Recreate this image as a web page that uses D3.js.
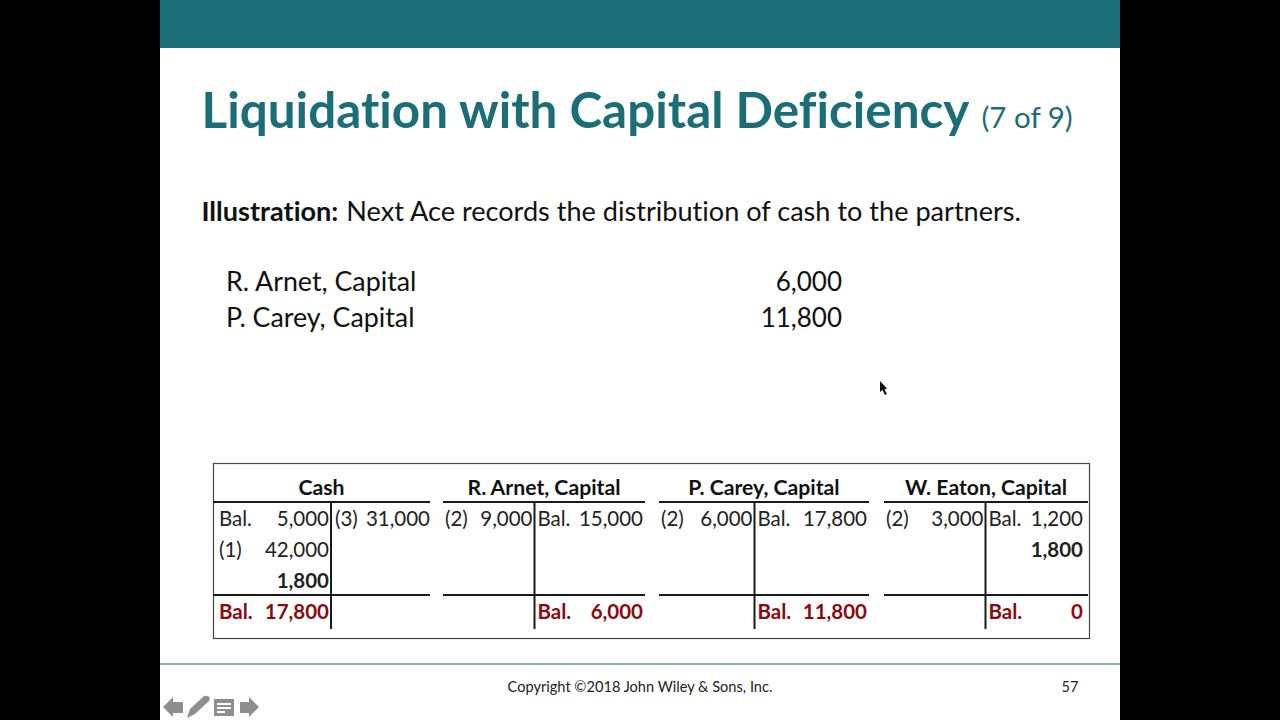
<!DOCTYPE html>
<html>
<head>
<meta charset="utf-8">
<script src="https://cdn.jsdelivr.net/npm/d3@7/dist/d3.min.js"></script>
<style>
  html, body { margin: 0; padding: 0; background: #000; overflow: hidden; }
  text { font-family: Lato, "Open Sans", sans-serif; font-variant-ligatures: none; }
</style>
</head>
<body>
<svg id="slide" width="1280" height="720"></svg>
<script>
// T account data, rows are read top to bottom
let accounts = ["Cash", "R. Arnet, Capital", "P. Carey, Capital", "W. Eaton, Capital"];

let debitLabels = [
  ["Bal.", "(1)", "", "Bal."],
  ["(2)", "", "", ""],
  ["(2)", "", "", ""],
  ["(2)", "", "", ""]
];
let debitValues = [
  [5000, 42000, 1800, 17800],
  [9000, null, null, null],
  [6000, null, null, null],
  [3000, null, null, null]
];
let creditLabels = [
  ["(3)", "", "", ""],
  ["Bal.", "", "", "Bal."],
  ["Bal.", "", "", "Bal."],
  ["Bal.", "", "", "Bal."]
];
let creditValues = [
  [31000, null, null, null],
  [15000, null, null, 6000],
  [17800, null, null, 11800],
  [1200, 1800, null, 0]
];

let journalNames = ["R. Arnet, Capital", "P. Carey, Capital"];
let journalValues = [6000, 11800];

let rows = [0, 1, 2, 3];
let boldRow = 2; // the 1,800 entry is bold, cash row 2 / eaton row 1
let totalRow = 3;

const teal = "#1b6e78";
const red = "#8b0a0f";
const fmt = d3.format(",");
const svg = d3.select("#slide");

// slide background
svg.append("rect").attr("x", 160).attr("y", 0).attr("width", 960).attr("height", 720).attr("fill", "#fff");
svg.append("rect").attr("x", 160).attr("y", 0).attr("width", 960).attr("height", 48).attr("fill", teal);

// title
let title = svg.append("text").attr("x", 201.5).attr("y", 128).attr("fill", teal);
title.append("tspan").attr("font-size", 49.4).attr("font-weight", 700).text("Liquidation with Capital Deficiency");
title.append("tspan").attr("font-size", 29.5).attr("dx", 12).text("(7 of 9)");

// illustration line
let intro = svg.append("text").attr("x", 201.5).attr("y", 221).attr("font-size", 27.1).attr("fill", "#111");
intro.append("tspan").attr("font-weight", 700).text("Illustration:");
intro.append("tspan").attr("dx", 8).text("Next Ace records the distribution of cash to the partners.");

// journal entry
let journalY = d3.scalePoint().domain(journalNames).range([290.5, 326.5]);
journalNames.forEach((name, i) => {
  svg.append("text").attr("x", 226).attr("y", journalY(name)).attr("font-size", 26.8).attr("fill", "#111").text(name);
  svg.append("text").attr("x", 842).attr("y", journalY(name)).attr("font-size", 26).attr("fill", "#111")
    .attr("text-anchor", "end").text(fmt(journalValues[i]));
});

// table frame
svg.append("rect").attr("x", 213.5).attr("y", 463.5).attr("width", 876).attr("height", 175)
  .attr("fill", "none").attr("stroke", "#444").attr("stroke-width", 1.2);

let rowY = d3.scalePoint().domain(rows).range([526, 618.5]);

// left edge, middle bar, right edge of each T
let lefts = [213, 443, 659, 884];
let mids = [331, 534.5, 754.5, 985.5];
let rights = [430, 645, 869, 1088];
let debitLabelX = [219, 445, 661, 886];
let creditLabelX = [335, 537.5, 757.5, 988.5];
let creditRightX = [430, 643, 867, 1083];

function cell(x, y, anchor, txt, bold, color) {
  svg.append("text").attr("x", x).attr("y", y).attr("text-anchor", anchor)
    .attr("font-size", 20.5).attr("font-weight", bold ? 700 : 400).attr("fill", color).text(txt);
}

function hline(x1, x2, y) {
  svg.append("line").attr("x1", x1).attr("x2", x2).attr("y1", y).attr("y2", y)
    .attr("stroke", "#1a1a1a").attr("stroke-width", 2);
}

accounts.forEach((name, a) => {
  svg.append("text").attr("x", (lefts[a] + rights[a]) / 2).attr("y", 495)
    .attr("text-anchor", "middle").attr("font-size", 21.2).attr("font-weight", 700).attr("fill", "#111").text(name);

  hline(lefts[a], rights[a], 502);
  hline(lefts[a], rights[a], 595);
  svg.append("line").attr("x1", mids[a]).attr("x2", mids[a]).attr("y1", 502).attr("y2", 629)
    .attr("stroke", "#1a1a1a").attr("stroke-width", 2);

  rows.forEach(r => {
    let total = r == totalRow;
    let color = total ? red : "#222";
    let debitBold = total || (a == 0 && r == boldRow);
    let creditBold = total || (a == 3 && r == 1);
    if (debitLabels[a][r]) cell(debitLabelX[a], rowY(r), "start", debitLabels[a][r], total, color);
    if (debitValues[a][r] !== null) cell(mids[a] - 2, rowY(r), "end", fmt(debitValues[a][r]), debitBold, color);
    if (creditLabels[a][r]) cell(creditLabelX[a], rowY(r), "start", creditLabels[a][r], total, color);
    if (creditValues[a][r] !== null) cell(creditRightX[a], rowY(r), "end", fmt(creditValues[a][r]), creditBold, color);
  });
});

// footer
svg.append("line").attr("x1", 160).attr("x2", 1120).attr("y1", 664).attr("y2", 664)
  .attr("stroke", "#5a9a96").attr("stroke-width", 1.5);
svg.append("text").attr("x", 640).attr("y", 692).attr("text-anchor", "middle").attr("font-size", 14.6).attr("fill", "#222")
  .text("Copyright ©2018 John Wiley & Sons, Inc.");
svg.append("text").attr("x", 1070).attr("y", 692).attr("text-anchor", "middle").attr("font-size", 14.6).attr("fill", "#222").text("57");

// player controls
const grey = "#8e8e8e";
svg.append("path").attr("fill", grey).attr("d", "M163 707 L173 697 L173 702 L183 702 L183 713 L173 713 L173 717 Z");
svg.append("path").attr("fill", grey).attr("d", "M187 718 L190 709 L204 696 Q208 695 210 698 L209 701 L195 714 Z");
svg.append("rect").attr("x", 214).attr("y", 699).attr("width", 20).attr("height", 17).attr("fill", grey);
svg.append("rect").attr("x", 217).attr("y", 703).attr("width", 14).attr("height", 2).attr("fill", "#fff");
svg.append("rect").attr("x", 217).attr("y", 707).attr("width", 14).attr("height", 2).attr("fill", "#fff");
svg.append("rect").attr("x", 217).attr("y", 711).attr("width", 8).attr("height", 2).attr("fill", "#fff");
svg.append("path").attr("fill", grey).attr("d", "M259 707 L249 697 L249 702 L240 702 L240 713 L249 713 L249 717 Z");

// mouse pointer
svg.append("path").attr("fill", "#111").attr("d", "M880 381 L880 392 L882.5 390 L885 395 L887 394 L884.5 389.5 L887 388.5 Z");
</script>
</body>
</html>
